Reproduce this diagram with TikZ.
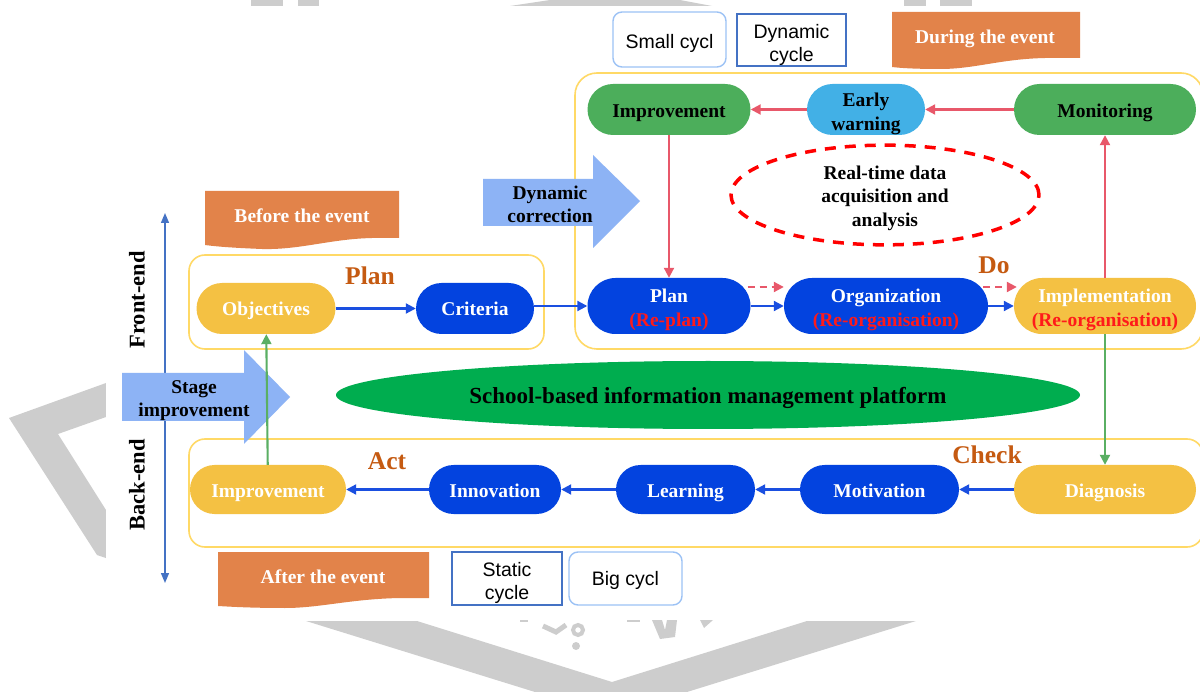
\documentclass[tikz,border=0pt]{standalone}
\usepackage{fontspec}
\setmainfont{Liberation Serif}
\newfontfamily\legendfont{Liberation Sans}
\usetikzlibrary{arrows.meta,shapes.geometric,calc}

\definecolor{cYellow}{HTML}{F4C143}
\definecolor{cBlue}{HTML}{0343DF}
\definecolor{cGreen}{HTML}{4CAE5B}
\definecolor{cSky}{HTML}{42B0E6}
\definecolor{cOrange}{HTML}{E2834A}
\definecolor{cBrown}{HTML}{C55A11}
\definecolor{cBigArrow}{HTML}{8DB3F5}
\definecolor{cPlatform}{HTML}{00AD4F}
\definecolor{cRedLine}{HTML}{E8586A}
\definecolor{cRedText}{HTML}{FF1A1A}
\definecolor{cBlueLine}{HTML}{1A4FE0}
\definecolor{cGreenLine}{HTML}{5AAF63}
\definecolor{cFrame}{HTML}{FFD966}
\definecolor{cAxis}{HTML}{4472C4}
\definecolor{cLegendLight}{HTML}{9CC2F5}
\definecolor{cMark}{HTML}{CDCDCD}

% centred lines, lowered inside their box so they sit in the middle of a shape
\newcommand\lowtext[2][3pt]{\raisebox{-#1}[\height][\depth]{\begin{tabular}{@{}c@{}}#2\end{tabular}}}

\begin{document}
\begin{tikzpicture}[x=1pt, y=-1pt,
  txt/.style={font=\bfseries\fontsize{19.5}{23.5}\selectfont, align=center},
  pill/.style={font=\bfseries\fontsize{19.5}{23.5}\selectfont, rectangle, inner sep=0pt, text=white},
  rowTop/.style={minimum height=51pt, rounded corners=25.5pt},
  rowMid/.style={minimum height=56pt, rounded corners=28pt},
  rowBot/.style={minimum height=49pt, rounded corners=24.5pt},
  frame/.style={draw=cFrame, line width=1.6pt, rounded corners=16pt, inner sep=0pt},
  phase/.style={font=\bfseries\fontsize{25.5}{28}\selectfont, text=cBrown},
  legendbox/.style={draw, line width=1.4pt, fill=white, inner sep=0pt,
    font=\legendfont\fontsize{19.5}{23}\selectfont},
  blueArrow/.style={draw=cBlueLine, line width=2.1pt, -{Triangle[length=10pt,width=10pt]}},
  redArrow/.style={draw=cRedLine, line width=2.1pt, -{Triangle[length=10pt,width=10pt]}},
  greenArrow/.style={draw=cGreenLine, line width=2.1pt, -{Triangle[length=10pt,width=10pt]}},
  redDashArrow/.style={redArrow, dash pattern=on 7pt off 5pt},
]
\useasboundingbox (0,0) rectangle (1200,692);

% ---- grey background emblem ----
\fill[cMark] (106,383) -- (9,418) -- (97,555) -- (106,558) -- (106,510) -- (58,434) -- (106,417) -- cycle;
\fill[cMark] (306,621) -- (417,621) -- (612,682) -- (807,621) -- (916,621) -- (687,692) -- (535,692) -- cycle;
\fill[cMark] (251,0) rectangle (283,6);
\fill[cMark] (298,0) rectangle (319,6);
\fill[cMark] (510,6) -- (550,0) -- (680,0) -- (712,6) -- cycle;
\fill[cMark] (904,0) rectangle (926,6);
\fill[cMark] (940,0) rectangle (972,6);
\fill[white] (106,6) rectangle (1200,621);
\fill[cMark] (520,620) rectangle (528,622);
\draw[cMark, line width=5pt] (543,626) -- (556,632) -- (566,625);
\draw[cMark, line width=4pt] (578,630) circle (5);
\fill[cMark] (576,646) circle (4);
\fill[cMark] (627,620) rectangle (640,622);
\fill[cMark] (652,620) -- (662,620) -- (665,630) -- (667,620) -- (677,620) -- (675,637) -- (660,639) -- cycle;
\fill[cMark] (700,620) -- (713,620) -- (704,628) -- cycle;

% ---- group frames ----
\node[frame, minimum width=355pt, minimum height=94pt] (planFrame) at (366.5,302) {};
\node[frame, minimum width=628pt, minimum height=276pt, rounded corners=22pt] (doFrame) at (889,211) {};
\node[frame, minimum width=1014pt, minimum height=108pt] (checkFrame) at (696,493) {};

% ---- event banners ----
\fill[cOrange] (205,191) -- (399,191) -- (399,238) -- (372,238)
  .. controls (330,239) and (300,250) .. (262,249)
  .. controls (238,248) and (220,247) .. (205,245) -- cycle;
\node[txt, text=white] (beforeLbl) at (302,216) {Before the event};
\fill[cOrange] (892,12) -- (1080,12) -- (1080,58) -- (1045,58)
  .. controls (1000,59) and (975,69) .. (940,69)
  .. controls (915,69) and (900,68) .. (892,67) -- cycle;
\node[txt, text=white] (duringLbl) at (985,39) {During the event};
\fill[cOrange] (218,552) -- (429,552) -- (429,598) -- (400,598)
  .. controls (350,599) and (320,608) .. (285,608)
  .. controls (255,608) and (235,607) .. (218,606) -- cycle;
\node[txt, text=white] (afterLbl) at (323,577) {After the event};

% ---- cycle legend boxes ----
\node[legendbox, draw=cLegendLight, rounded corners=9pt, minimum width=113pt, minimum height=55pt] (smallCycle) at (669.5,39.5) {\lowtext[4pt]{Small cycl}};
\node[legendbox, draw=cAxis, minimum width=109pt, minimum height=52pt] (dynCycle) at (791.5,40) {\lowtext[5.5pt]{Dynamic\\cycle}};
\node[legendbox, draw=cAxis, minimum width=110pt, minimum height=53pt] (staticCycle) at (507,578.5) {\lowtext[4.5pt]{Static\\cycle}};
\node[legendbox, draw=cLegendLight, rounded corners=9pt, minimum width=113pt, minimum height=53pt] (bigCycle) at (625.5,578.5) {\lowtext[2pt]{Big cycl}};

% ---- front-end / back-end axis ----
\coordinate (axisTop) at (165,213);
\coordinate (axisBot) at (165,583);
\draw[cAxis, line width=1.4pt, {Triangle[length=10pt,width=8pt]}-{Triangle[length=10pt,width=8pt]}] (axisTop) -- (axisBot);
\node[rotate=90, font=\bfseries\fontsize{22.5}{26}\selectfont] (frontLbl) at (137,300) {Front-end};
\node[rotate=90, font=\bfseries\fontsize{22.5}{26}\selectfont] (backLbl) at (137,485) {Back-end};

% ---- broad arrows ----
\fill[cBigArrow] (483,179) -- (593,179) -- (593,155) -- (640,201) -- (593,248) -- (593,226) -- (483,226) -- cycle;
\node[txt] (dynCorr) at (550,204.5) {Dynamic\\correction};
\fill[cBigArrow] (122,373) -- (244,373) -- (244,350) -- (290,397) -- (244,444) -- (244,421) -- (122,421) -- cycle;
\node[txt] (stageImp) at (194,400.5) {Stage\\improvement};

% ---- platform and real-time data ----
\node[ellipse, fill=cPlatform, minimum width=744pt, minimum height=68pt, inner sep=0pt,
  font=\bfseries\fontsize{23}{26}\selectfont] (platform) at (708,395) {\lowtext{School-based information management platform}};
\node[ellipse, draw=red, line width=3.5pt, dash pattern=on 11pt off 9pt, minimum width=308pt, minimum height=81pt, inner sep=0pt,
  font=\bfseries\fontsize{19.5}{23.5}\selectfont] (realtime) at (885,195) {\lowtext{Real-time data\\acquisition and\\analysis}};

% ---- phase labels ----
\node[phase] (planLbl) at (370,276) {Plan};
\node[phase] (doLbl) at (994,265) {Do};
\node[phase] (actLbl) at (387,461) {Act};
\node[phase] (checkLbl) at (987,455) {Check};

% ---- process nodes ----
\node[pill, rowTop, fill=cYellow, minimum width=139pt] (obj) at (266,308.5) {\lowtext[2pt]{Objectives}};
\node[pill, rowTop, fill=cBlue, minimum width=118pt] (crit) at (475,308.5) {\lowtext[2pt]{Criteria}};

\node[pill, rowTop, fill=cGreen, text=black, minimum width=163pt] (impTop) at (669,109.5) {\lowtext[3.5pt]{Improvement}};
\node[pill, rowTop, fill=cSky, text=black, minimum width=118pt] (warn) at (866,109.5) {\lowtext[4.5pt]{Early\\warning}};
\node[pill, rowTop, fill=cGreen, text=black, minimum width=182pt] (mon) at (1105,109.5) {\lowtext[3pt]{Monitoring}};

\node[pill, rowMid, fill=cBlue, minimum width=163pt] (plan) at (669,306) {\lowtext[4pt]{Plan\\\textcolor{cRedText}{(Re-plan)}}};
\node[pill, rowMid, fill=cBlue, minimum width=204pt] (org) at (886,306) {\lowtext[4pt]{Organization\\\textcolor{cRedText}{(Re-organisation)}}};
\node[pill, rowMid, fill=cYellow, minimum width=182pt] (impl) at (1105,306) {\lowtext[4pt]{Implementation\\\textcolor{cRedText}{(Re-organisation)}}};

\node[pill, rowBot, fill=cYellow, minimum width=156pt] (impBot) at (268,489.5) {\lowtext{Improvement}};
\node[pill, rowBot, fill=cBlue, minimum width=132pt] (innov) at (495,489.5) {\lowtext[3pt]{Innovation}};
\node[pill, rowBot, fill=cBlue, minimum width=139pt] (learn) at (685.5,489.5) {\lowtext{Learning}};
\node[pill, rowBot, fill=cBlue, minimum width=159pt] (motiv) at (879.5,489.5) {\lowtext[3pt]{Motivation}};
\node[pill, rowBot, fill=cYellow, minimum width=182pt] (diag) at (1105,489.5) {\lowtext{Diagnosis}};

% ---- connectors ----
\draw[blueArrow] (obj) -- (crit);
\draw[blueArrow] (crit.east |- plan.west) -- (plan.west);
\draw[blueArrow] (plan) -- (org);
\draw[blueArrow] (org) -- (impl);
\draw[redDashArrow] ($(plan.east)+(-3,-19)$) -- ($(org.west)+(0,-19)$);
\draw[redDashArrow] ($(org.east)+(-5,-19)$) -- ($(impl.west)+(3,-19)$);

\draw[redArrow] (mon) -- (warn);
\draw[redArrow] (warn) -- (impTop);
\draw[redArrow] (impTop) -- (plan);
\draw[redArrow] (impl) -- (mon);
\draw[greenArrow] (impl) -- (diag);

\draw[blueArrow] (diag) -- (motiv);
\draw[blueArrow] (motiv) -- (learn);
\draw[blueArrow] (learn) -- (innov);
\draw[blueArrow] (innov) -- (impBot);
\draw[greenArrow] (impBot) -- (obj);
\end{tikzpicture}
\end{document}
